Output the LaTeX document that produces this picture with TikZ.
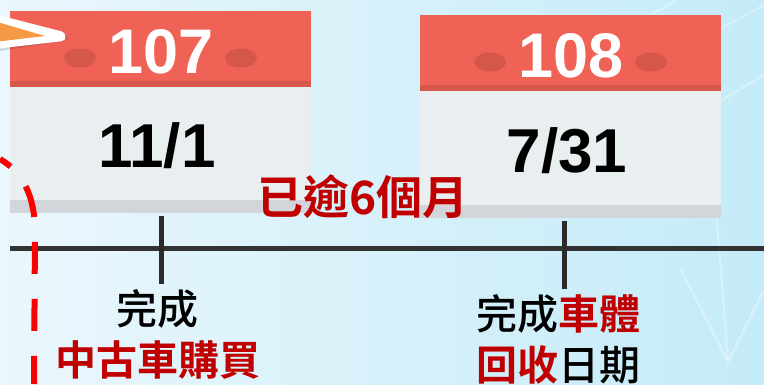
\documentclass[tikz,border=0pt]{standalone}
\usepackage{fontspec}
\setmainfont{Liberation Sans}
\newfontfamily\cjk{Noto Sans CJK TC Medium}[BoldFont={Noto Sans CJK TC Bold}]
\definecolor{bgL}{HTML}{EAF7FC}
\definecolor{bgR}{HTML}{C4EBF8}
\definecolor{calred}{HTML}{F06255}
\definecolor{caldark}{HTML}{D6584B}
\definecolor{calhole}{HTML}{D5574A}
\definecolor{calbody}{HTML}{E9EEF1}
\definecolor{calfoot}{HTML}{D2D6DA}
\definecolor{axisgray}{HTML}{333333}
\definecolor{darkred}{HTML}{C00000}
\definecolor{arroworange}{HTML}{F59A44}
\tikzset{
  yearnum/.style={text=white, font=\fontsize{63}{63}\selectfont\bfseries, inner sep=0pt, anchor=base},
  datenum/.style={text=black, font=\fontsize{62}{62}\selectfont\bfseries, inner sep=0pt, anchor=base},
  cjklabel/.style={text=black, font=\fontsize{41}{41}\selectfont\cjk, inner sep=0pt, anchor=base},
  cjkred/.style={cjklabel, text=darkred, font=\fontsize{41}{41}\selectfont\cjk\bfseries},
  overdue/.style={text=darkred, font=\fontsize{46}{46}\selectfont\cjk\bfseries, inner sep=0pt, anchor=base},
  axisline/.style={draw=axisgray, line width=5pt},
  tickline/.style={draw=axisgray!85!black, line width=5pt},
  reddash/.style={draw=red, line width=6pt, dash pattern=on 32pt off 25pt, dash phase=19pt},
  bgwave/.style={draw=white, line width=2pt, opacity=0.35},
}
\begin{document}
\begin{tikzpicture}[x=1pt,y=-1pt]
\useasboundingbox (0,0) rectangle (764,384);
\shade[left color=bgL, right color=bgR] (0,0) rectangle (764,384);
% faint background waves
\draw[bgwave] (717,220) -- (728,362) -- (764,290);
\draw[bgwave] (680,267) -- (727,360);
\draw[bgwave] (722,100) -- (764,75);
\draw[bgwave] (650,15) -- (677,0);
\draw[bgwave] (700,40) -- (764,5);
% calendar 1
\fill[calred] (10,11) rectangle (311,81);
\fill[caldark] (10,81) rectangle (311,87);
\fill[calbody] (10,87) rectangle (311,200);
\fill[calfoot] (10,200) rectangle (311,213);
\fill[calhole] (80,58) ellipse [x radius=16, y radius=9.5];
\fill[calhole] (241,58) ellipse [x radius=16, y radius=9.5];
% calendar 2
\begin{scope}[shift={(410,4)}]
\fill[calred] (10,11) rectangle (311,81);
\fill[caldark] (10,81) rectangle (311,87);
\fill[calbody] (10,87) rectangle (311,201);
\fill[calfoot] (10,201) rectangle (311,214);
\fill[calhole] (80,58) ellipse [x radius=16, y radius=9.5];
\fill[calhole] (241,58) ellipse [x radius=16, y radius=9.5];
\end{scope}
\node[yearnum] (y107) at (161,73) {107};
\node[datenum] (d1101) at (157,167) {11/1};
\node[yearnum] (y108) at (571,77) {108};
\node[datenum] (d0731) at (567,172) {7/31};
% timeline
\coordinate (tlL) at (10,248);
\coordinate (tlR) at (764,248);
\draw[axisline] (tlL) -- (tlR);
\coordinate (t1a) at (161,216);
\coordinate (t1b) at (161,284);
\coordinate (t2a) at (564,221);
\coordinate (t2b) at (564,289);
\draw[tickline] (t1a) -- (t1b);
\draw[tickline] (t2a) -- (t2b);
\node[overdue] (gap) at (363,214) {已逾6個月};
% labels
\node[cjklabel] (l1a) at (157,324) {完成};
\node[cjkred] (l1b) at (158.5,375) {中古車購買};
\node[cjklabel] (l2a) at (558.5,329) {完成{\color{darkred}\bfseries 車體}};
\node[cjklabel] (l2b) at (558.5,380) {{\color{darkred}\bfseries 回收}日期};
% red dashed circle edge
\coordinate (rs) at (0,159);
\coordinate (re) at (34,384);
\draw[reddash] (rs) .. controls (22,172) and (35,195) .. (35,232) -- (re);
% orange pointer
\fill[black, opacity=0.12] (-6,17) -- (66,36) [rounded corners=3pt] -- (69,40) -- (-6,52) -- cycle;
\fill[white, rounded corners=3pt] (-6,14) -- (64,32) -- (66,37) -- (64,41) -- (-6,49) -- cycle;
\fill[arroworange] (-6,21) -- (45,36) -- (-6,42) -- cycle;
\end{tikzpicture}
\end{document}
